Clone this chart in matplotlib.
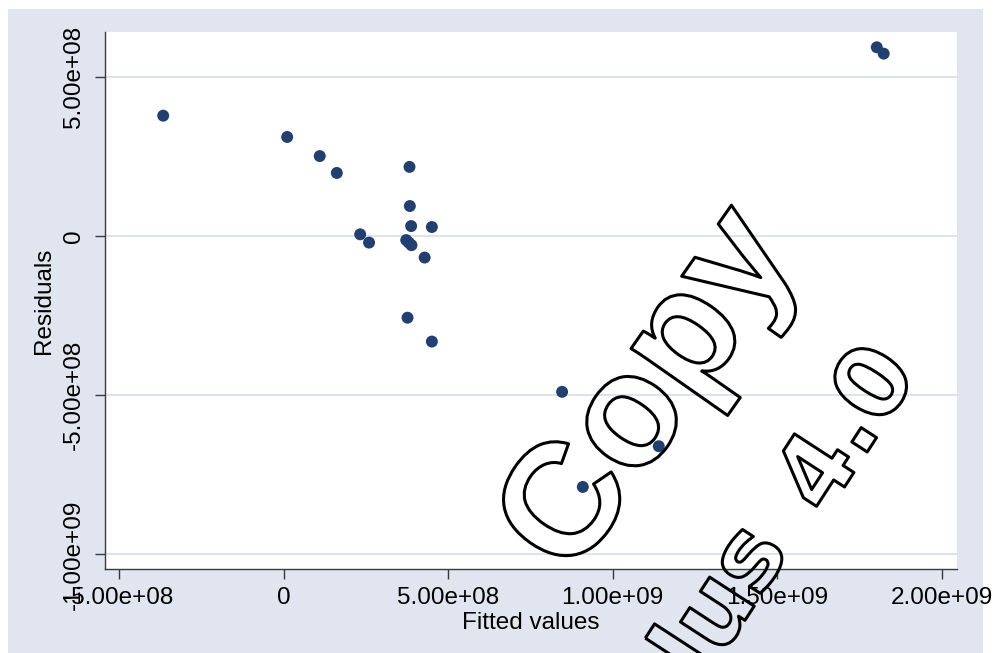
import matplotlib
matplotlib.use("Agg")
import matplotlib.pyplot as plt
import matplotlib.patheffects as pe
from matplotlib.patches import Rectangle

# ---- data ----
fitted = [-3.67e8, 0.10e8, 1.09e8, 1.61e8, 3.82e8, 3.83e8, 3.87e8, 4.50e8,
          2.32e8, 2.59e8, 3.72e8, 3.80e8, 3.88e8, 4.28e8, 3.76e8, 4.50e8,
          8.46e8, 1.14e9, 9.09e8, 1.803e9, 1.824e9]
residuals = [3.79e8, 3.12e8, 2.52e8, 1.99e8, 2.18e8, 0.95e8, 0.32e8, 0.29e8,
             0.06e8, -0.20e8, -0.12e8, -0.20e8, -0.28e8, -0.67e8, -2.56e8, -3.31e8,
             -4.89e8, -6.60e8, -7.88e8, 5.94e8, 5.74e8]
xticks = [-5e8, 0, 5e8, 1e9, 1.5e9, 2e9]
xticklabels = ["-5.00e+08", "0", "5.00e+08", "1.00e+09", "1.50e+09", "2.00e+09"]
yticks = [-1e9, -5e8, 0, 5e8]
yticklabels = ["-1.00e+09", "-5.00e+08", "0", "5.00e+08"]

W, H = 996, 653
plt.rcParams['font.family'] = ['Liberation Sans', 'DejaVu Sans']
fig = plt.figure(figsize=(W / 100, H / 100), dpi=100, facecolor='white')

# graph region (Stata-like light bluish background)
fig.patches.append(Rectangle((8 / W, 0), (983 - 8) / W, 1 - 9 / H,
                             transform=fig.transFigure, facecolor='#e0e5ef',
                             edgecolor='none', zorder=-10))

ax = fig.add_axes([105 / W, 1 - 568.7 / H, (956.7 - 105) / W, (568.7 - 32) / H])
ax.set_zorder(1)
ax.set_facecolor('white')
ax.set_xlim(-5.44e8, 2.046e9)
ax.set_ylim(-1.045e9, 6.42e8)

ax.scatter(fitted, residuals, s=74, color='#233f70', edgecolors='none', zorder=3)

ax.set_xticks(xticks)
ax.set_xticklabels(xticklabels)
ax.set_yticks(yticks)
ax.set_yticklabels(yticklabels, rotation=90, va='center')
ax.grid(axis='y', color='#dde3ee', linewidth=1.4, zorder=1)
ax.grid(axis='x', visible=False)
ax.set_axisbelow(True)

for s in ['top', 'right']:
    ax.spines[s].set_visible(False)
for s in ['left', 'bottom']:
    ax.spines[s].set_color('#3a3a3a')
    ax.spines[s].set_linewidth(1.0)

ax.tick_params(axis='both', direction='out', length=7.2, width=1.0,
               color='#3a3a3a', labelsize=17.5, labelcolor='black')
ax.tick_params(axis='x', pad=6)
ax.tick_params(axis='y', pad=7)
ax.set_xlabel("Fitted values", fontsize=17.5, labelpad=2)
ax.set_ylabel("Residuals", fontsize=17.5, labelpad=6)

# ---- watermark (outlined text) ----
def px(x, y):
    return x / W, 1 - y / H

stroke = [pe.Stroke(linewidth=2.2, foreground='black')]
wm = dict(color='none', weight='bold', rotation_mode='anchor', ha='left',
          va='baseline', zorder=10, path_effects=stroke)
fig.text(*px(572, 580), "Copy", fontsize=115, rotation=55,
         family='Liberation Sans', **wm)
fig.text(*px(825, 517), "4.0", fontsize=70, rotation=57,
         family='DejaVu Sans', **wm)
fig.text(*px(664, 745), "Plus", fontsize=70, rotation=57,
         family='DejaVu Sans', **wm)

fig.savefig("out.png", dpi=100, facecolor=fig.get_facecolor())
